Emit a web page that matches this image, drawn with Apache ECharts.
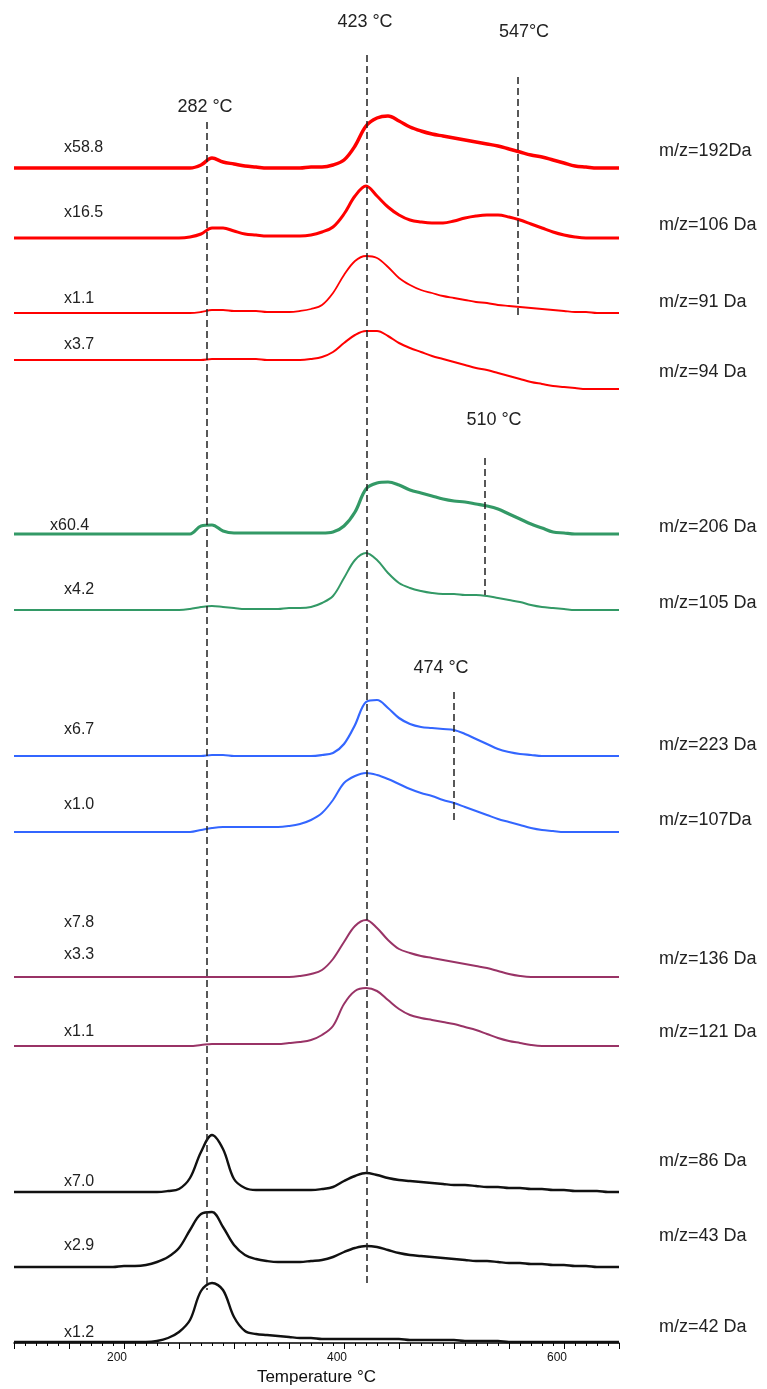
<!DOCTYPE html>
<html>
<head>
<meta charset="utf-8">
<script src="https://cdn.jsdelivr.net/npm/echarts/dist/echarts.min.js"></script>
<style>
  html, body { margin: 0; padding: 0; background: #fff; }
  #main { width: 767px; height: 1389px; }
</style>
</head>
<body>
<div id="main"></div>
<script>
// temperature (°C) of every sample
var temps = [100,110,120,130,140,150,160,170,180,190,200,210,220,230,240,250,260,270,280,290,
  300,310,320,330,340,350,360,370,380,390,400,410,420,430,440,450,460,470,480,490,
  500,510,520,530,540,550,560,570,580,590,600,610,620,630,640,650];

// scaled ion currents (arb. units above each trace's baseline)
var mz192 = [0,0,0,0,0,0,0,0,0,0,0,0,0,0,0,0,0,3,10,6,4,2,1,0,0,0,0,1,1,3,8,22,42,50,52,47,41,37,34,32,30,28,26,24,22,19,16,13,11,8,5,2,1,0,0,0];
var mz106 = [0,0,0,0,0,0,0,0,0,0,0,0,0,0,0,0,1,4,10,10,7,4,3,2,2,2,2,3,6,11,24,42,52,42,31,23,18,16,15,15,17,20,22,23,23,21,18,14,10,6,3,1,0,0,0,0];
var mz91  = [0,0,0,0,0,0,0,0,0,0,0,0,0,0,0,0,0,1,3,3,2,2,2,1,1,1,2,4,8,20,38,52,57,55,46,35,28,23,20,17,15,13,11,10,8,7,6,5,4,3,2,1,1,0,0,0];
var mz94  = [0,0,0,0,0,0,0,0,0,0,0,0,0,0,0,0,0,0,1,1,1,1,1,0,0,0,0,1,3,8,17,25,29,29,24,17,12,8,4,1,-2,-5,-8,-10,-13,-16,-19,-22,-24,-26,-27,-28,-29,-29,-29,-29];
var mz206 = [0,0,0,0,0,0,0,0,0,0,0,0,0,0,0,0,0,8,9,3,1,1,1,1,1,1,1,1,1,2,8,22,45,51,52,49,44,41,38,35,33,32,30,28,25,20,15,10,6,2,1,0,0,0,0,0];
var mz105 = [0,0,0,0,0,0,0,0,0,0,0,0,0,0,0,0,1,3,4,3,2,1,1,1,1,2,2,3,7,14,32,50,57,50,37,27,22,19,17,16,16,15,15,14,12,10,8,5,3,2,1,0,0,0,0,0];
var mz223 = [0,0,0,0,0,0,0,0,0,0,0,0,0,0,0,0,0,0,1,1,0,0,0,0,0,0,0,0,1,3,12,31,54,56,48,38,32,29,28,27,26,22,17,12,7,4,2,1,0,0,0,0,0,0,0,0];
var mz107 = [0,0,0,0,0,0,0,0,0,0,0,0,0,0,0,0,0,2,4,5,5,5,5,5,5,6,8,12,19,32,49,56,59,57,53,48,43,39,36,32,29,25,21,17,13,10,7,4,2,1,0,0,0,0,0,0];
var mz136 = [0,0,0,0,0,0,0,0,0,0,0,0,0,0,0,0,0,0,0,0,0,0,0,0,0,0,1,3,7,18,35,51,57,49,37,28,24,21,19,17,15,13,11,9,6,3,1,0,0,0,0,0,0,0,0,0];
var mz121 = [0,0,0,0,0,0,0,0,0,0,0,0,0,0,0,0,0,1,2,2,2,2,2,2,2,3,4,6,11,20,42,55,58,55,46,37,31,28,26,24,22,19,16,12,8,5,3,1,0,0,0,0,0,0,0,0];
var mz86  = [0,0,0,0,0,0,0,0,0,0,0,0,0,0,1,3,14,40,57,43,13,4,2,2,2,2,2,2,3,5,11,16,19,17,14,12,11,10,9,8,7,7,6,5,5,4,4,3,3,2,2,1,1,1,0,0];
var mz43  = [0,0,0,0,0,0,0,0,0,0,1,1,2,5,10,19,37,53,55,40,22,12,8,6,5,5,5,6,7,10,15,19,21,20,17,14,12,11,10,9,8,7,6,6,5,4,4,3,3,2,2,1,1,0,0,0];
var mz42  = [0,0,0,0,0,0,0,0,0,0,0,0,0,1,4,10,22,51,59,52,25,11,8,7,6,5,4,4,3,3,3,3,3,3,3,3,2,2,2,2,2,1,1,1,1,0,0,0,0,0,0,0,0,0,0,0];

var seriesValues = [mz192, mz106, mz91, mz94, mz206, mz105, mz223, mz107, mz136, mz121, mz86, mz43, mz42];
var massLabels = ['m/z=192Da','m/z=106 Da','m/z=91 Da','m/z=94 Da','m/z=206 Da','m/z=105 Da',
  'm/z=223 Da','m/z=107Da','m/z=136 Da','m/z=121 Da','m/z=86 Da','m/z=43 Da','m/z=42 Da'];
var factorLabels = ['x58.8','x16.5','x1.1','x3.7','x60.4','x4.2','x6.7','x1.0','x7.8','x3.3','x1.1','x7.0','x2.9','x1.2'];

// peak markers
var peakTemps = [275, 421, 558, 528, 500];
var peakLabels = ['282 °C', '423 °C', '547°C', '510 °C', '474 °C'];

// ---- layout (pixels) ----
var baselines = [168, 238, 313, 360, 534, 610, 756, 832, 977, 1046, 1192, 1267, 1342];
var massLabelY = [151, 225, 302, 372, 527, 603, 745, 820, 959, 1032, 1161, 1236, 1327];
var factorX = [64, 64, 64, 64, 50, 64, 64, 64, 64, 64, 64, 64, 64, 64];
var factorY = [148, 213, 299, 345, 526, 590, 730, 805, 923, 955, 1032, 1182, 1246, 1333];
var peakLineTop = [122, 55, 77, 458, 692];
var peakLineBottom = [1290, 1283, 315, 595, 822];
var peakLabelX = [205, 365, 524, 494, 441];
var peakLabelY = [107, 22, 32, 420, 668];

var colors = ['#ff0000','#ff0000','#ff0000','#ff0000','#339966','#339966',
  '#3366ff','#3366ff','#993366','#993366','#111111','#111111','#111111'];
var widths = [3.5, 3, 1.8, 2, 3.2, 2, 2.2, 2, 2, 2, 2.4, 2.4, 2.4];

var FONT = '"Liberation Sans", Arial, sans-serif';

function chart1() {
    var series = seriesValues.map(function (vals, k) {
        return {
            name: massLabels[k],
            type: 'line',
            showSymbol: false,
            smooth: 0.35,
            lineStyle: { color: colors[k], width: widths[k] },
            data: temps.map(function (t, i) { return [t, baselines[k] - vals[i]]; })
        };
    });

    // dashed guide lines at the peak temperatures
    series[0].markLine = {
        silent: true,
        symbol: 'none',
        label: { show: false },
        lineStyle: { color: '#222', width: 1.5, type: [7, 4] },
        data: peakTemps.map(function (t, k) {
            return [{ coord: [t, peakLineTop[k]] }, { coord: [t, peakLineBottom[k]] }];
        })
    };

    var texts = [];
    massLabels.forEach(function (s, k) {
        texts.push({ type: 'text', x: 659, y: massLabelY[k],
            style: { text: s, fill: '#222', font: '18px ' + FONT, align: 'left', verticalAlign: 'middle' } });
    });
    factorLabels.forEach(function (s, k) {
        texts.push({ type: 'text', x: factorX[k], y: factorY[k],
            style: { text: s, fill: '#222', font: '16px ' + FONT, align: 'left', verticalAlign: 'middle' } });
    });
    peakLabels.forEach(function (s, k) {
        texts.push({ type: 'text', x: peakLabelX[k], y: peakLabelY[k],
            style: { text: s, fill: '#222', font: '18px ' + FONT, align: 'center', verticalAlign: 'middle' } });
    });

    option = {
        animation: false,
        backgroundColor: '#fff',
        grid: { left: 14, right: 148, top: 0, bottom: 46, outerBoundsMode: 'none', containLabel: false },
        xAxis: {
            type: 'value',
            min: 100,
            max: 650,
            interval: 50,
            name: 'Temperature °C',
            nameLocation: 'middle',
            nameGap: 26,
            nameTextStyle: { color: '#111', fontSize: 17, fontFamily: FONT },
            axisLine: { show: true, onZero: false, lineStyle: { color: '#000', width: 1.5 } },
            axisTick: { show: true, length: 6, lineStyle: { color: '#000' } },
            minorTick: { show: true, splitNumber: 5, length: 3, lineStyle: { color: '#000' } },
            axisLabel: {
                color: '#111', fontSize: 12, fontFamily: FONT, margin: 9,
                padding: [0, 14, 0, 0],
                formatter: function (v) { return v % 200 === 0 ? String(v) : ''; }
            },
            splitLine: { show: false }
        },
        yAxis: {
            type: 'value',
            show: false,
            inverse: true,
            min: 0,
            max: 1343,
            splitLine: { show: false }
        },
        graphic: texts,
        series: series
    };
    var myChart = echarts.init(document.getElementById('main'));
    myChart.setOption(option);
}

chart1();
</script>
</body>
</html>
